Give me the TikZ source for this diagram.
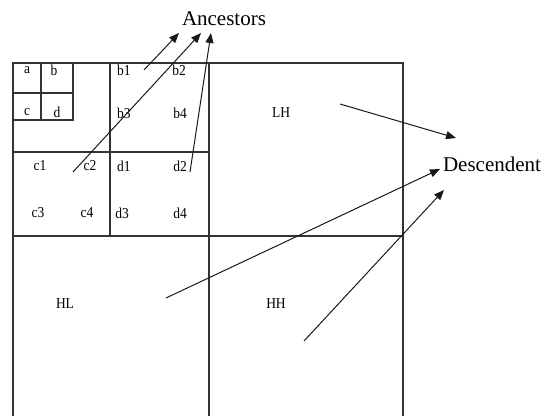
\documentclass[tikz,border=0pt]{standalone}
\usepackage{fontspec}
\setmainfont{Liberation Serif}
\usetikzlibrary{arrows.meta}
\begin{document}
\begin{tikzpicture}[x=1pt,y=-1pt,
  grid/.style={draw=black!80, line width=1.1pt},
  lbl/.style={font=\fontsize{13.5}{13.5}\selectfont, inner sep=0pt, yscale=1.12},
  big/.style={font=\fontsize{21}{21}\selectfont, inner sep=0pt},
  arr/.style={draw=black!90, line width=1pt, -{Triangle[length=10pt,width=8pt]}}]
\useasboundingbox (0,0) rectangle (542,416);
% outer frame
\draw[grid] (13,416) -- (13,63) -- (403,63) -- (403,416);
\draw[grid] (209,63) -- (209,416);
\draw[grid] (13,236) -- (403,236);
% top-left quadrant divisions
\draw[grid] (110,63) -- (110,236);
\draw[grid] (13,152) -- (209,152);
% smallest grid
\draw[grid] (41,63) -- (41,120);
\draw[grid] (13,93) -- (73,93);
\draw[grid] (73,63) -- (73,120) -- (13,120);
% labels
\node[lbl] (a) at (27,70) {a};
\node[lbl] (b) at (54,70) {b};
\node[lbl] (c) at (27,112) {c};
\node[lbl] (d) at (57,112) {d};
\node[lbl] (b1) at (124,70) {b1};
\node[lbl] (b2) at (179,70) {b2};
\node[lbl] (b3) at (124,113) {b3};
\node[lbl] (b4) at (180,113) {b4};
\node[lbl] (c1) at (40,166) {c1};
\node[lbl] (c2) at (90,166) {c2};
\node[lbl] (d1) at (124,166) {d1};
\node[lbl] (d2) at (180,166) {d2};
\node[lbl] (c3) at (38,213) {c3};
\node[lbl] (c4) at (87,213) {c4};
\node[lbl] (d3) at (122,213) {d3};
\node[lbl] (d4) at (180,213) {d4};
\node[lbl] (LH) at (281,113) {LH};
\node[lbl] (HL) at (65,304) {HL};
\node[lbl] (HH) at (276,304) {HH};
\node[big] (anc) at (224,19) {Ancestors};
\node[big] (desc) at (492,164) {Descendent};
% arrow endpoints
\coordinate (s1) at (144,70);
\coordinate (e1) at (179,33);
\coordinate (s2) at (73,172);
\coordinate (e2) at (201,33);
\coordinate (s3) at (190,172);
\coordinate (e3) at (211,33);
\coordinate (s4) at (340,104);
\coordinate (e4) at (456,138);
\coordinate (s5) at (166,298);
\coordinate (e5) at (440,169);
\coordinate (s6) at (304,341);
\coordinate (e6) at (444,190);
\draw[arr] (s1) -- (e1);
\draw[arr] (s2) -- (e2);
\draw[arr] (s3) -- (e3);
\draw[arr] (s4) -- (e4);
\draw[arr] (s5) -- (e5);
\draw[arr] (s6) -- (e6);
\end{tikzpicture}
\end{document}
